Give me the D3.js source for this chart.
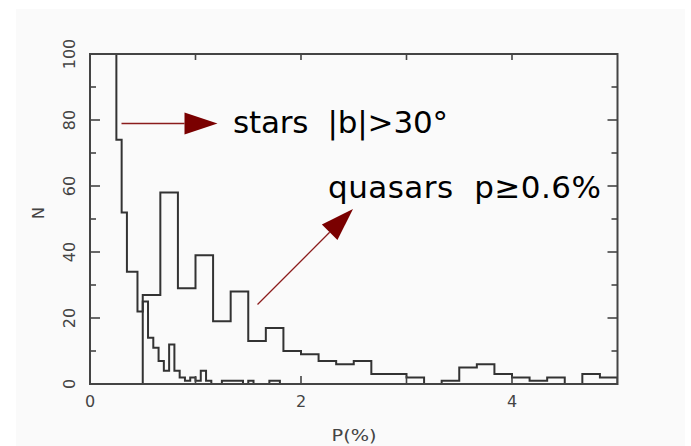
<!DOCTYPE html>
<html>
<head>
<meta charset="utf-8">
<script src="https://cdn.jsdelivr.net/npm/d3@7"></script>
<style>
  html, body { margin: 0; padding: 0; background: #ffffff; }
  svg { display: block; }
  text { font-family: "DejaVu Sans", sans-serif; }
</style>
</head>
<body>
<script>
// ---------------- data ----------------
// Stars |b|>30: bins of width 0.05 starting at P=0 (first five bins run off-scale)
const starBinStart = 0;
const starBinWidth = 0.05;
const starCounts = [150, 150, 150, 150, 150,
  74, 52, 34, 34, 22, 25, 14, 11, 7, 4, 12, 4, 2, 1, 2, 1, 4, 1, 0, 0,
  1, 1, 1, 1, 0, 1, 0, 0, 0, 1, 1];
// Quasars p>=0.6%: bins of width 1/6 starting at P=0.5
const quasarBinStart = 0.5;
const quasarBinWidth = 1 / 6;
const quasarCounts = [27, 58, 29, 39, 19, 28, 13, 17, 10, 9, 7, 6, 7, 3, 3, 2, 0, 1,
  5, 6, 3, 2, 1, 2, 0, 3, 2];
const xTickLabels = [0, 2, 4];
const xMinorTicks = [1, 2, 3, 4];
const yMajorTicks = [0, 20, 40, 60, 80, 100];
const yMinorTicks = [10, 30, 50, 70, 90];
const xTitle = "P(%)";
const yTitle = "N";
const starLabel = "stars  |b|>30°";
const quasarLabel = "quasars  p≥0.6%";

(function () {
// ---------------- layout ----------------
const W = 691, H = 446;
const pLeft = 90, pRight = 617.5, pTop = 54, pBottom = 384;
const ink = "#333333";
const arrowRed = "#7a0000";

const svg = d3.select("body").append("svg").attr("width", W).attr("height", H);

svg.append("rect").attr("x", 16).attr("y", 9).attr("width", 669).attr("height", H - 9)
  .attr("fill", "#fafafa");

const x = d3.scaleLinear().domain([0, 5]).range([pLeft, pRight]);
const y = d3.scaleLinear().domain([0, 100]).range([pBottom, pTop]);

svg.append("defs").append("clipPath").attr("id", "plotclip")
  .append("rect").attr("x", x(0)).attr("y", y(100)).attr("width", x(5) - x(0)).attr("height", y(0) - y(100));

function stepPoints(start, width, counts) {
  const pts = [[start, 0]];
  counts.forEach((c, i) => {
    pts.push([start + i * width, c]);
    pts.push([start + (i + 1) * width, c]);
  });
  pts.push([start + counts.length * width, 0]);
  return pts;
}
const line = d3.line().x(d => x(d[0])).y(d => y(d[1]));

const plot = svg.append("g").attr("clip-path", "url(#plotclip)");
plot.append("path").datum(stepPoints(starBinStart, starBinWidth, starCounts))
  .attr("d", line).attr("fill", "none").attr("stroke", ink).attr("stroke-width", 2)
  .attr("stroke-linejoin", "miter");
plot.append("path").datum(stepPoints(quasarBinStart, quasarBinWidth, quasarCounts))
  .attr("d", line).attr("fill", "none").attr("stroke", ink).attr("stroke-width", 2)
  .attr("stroke-linejoin", "miter");

// frame
svg.append("rect").attr("x", x(0)).attr("y", y(100)).attr("width", x(5) - x(0)).attr("height", y(0) - y(100))
  .attr("fill", "none").attr("stroke", "#444").attr("stroke-width", 2);

// ticks
const tg = svg.append("g").attr("stroke", "#444").attr("stroke-width", 1.6);
yMajorTicks.forEach(v => {
  tg.append("line").attr("x1", x(0)).attr("x2", x(0) + 10).attr("y1", y(v)).attr("y2", y(v));
  tg.append("line").attr("x1", x(5)).attr("x2", x(5) - 10).attr("y1", y(v)).attr("y2", y(v));
});
yMinorTicks.forEach(v => {
  tg.append("line").attr("x1", x(0)).attr("x2", x(0) + 6).attr("y1", y(v)).attr("y2", y(v));
  tg.append("line").attr("x1", x(5)).attr("x2", x(5) - 6).attr("y1", y(v)).attr("y2", y(v));
});
xMinorTicks.forEach(v => {
  tg.append("line").attr("x1", x(v)).attr("x2", x(v)).attr("y1", y(0)).attr("y2", y(0) - 8);
  tg.append("line").attr("x1", x(v)).attr("x2", x(v)).attr("y1", y(100)).attr("y2", y(100) + 6);
});

// tick labels
const lab = "#444";
yMajorTicks.forEach(v => {
  svg.append("text").attr("transform", `translate(75,${y(v)}) rotate(-90)`)
    .attr("text-anchor", "middle").attr("font-size", 16).attr("fill", lab).text(v);
});
xTickLabels.forEach(v => {
  svg.append("text").attr("x", x(v)).attr("y", 407).attr("text-anchor", "middle")
    .attr("font-size", 16).attr("fill", lab).text(v);
});
svg.append("text").attr("x", 354).attr("y", 441).attr("text-anchor", "middle")
  .attr("font-size", 16).attr("fill", lab).attr("textLength", 45).attr("lengthAdjust", "spacingAndGlyphs")
  .text(xTitle);
svg.append("text").attr("transform", `translate(44,213) rotate(-90)`)
  .attr("text-anchor", "middle").attr("font-size", 16).attr("fill", lab).text(yTitle);

// annotations
function arrow(x1, y1, x2, y2) {
  const dx = x2 - x1, dy = y2 - y1, L = Math.hypot(dx, dy);
  const ux = dx / L, uy = dy / L, hl = 33, hw = 11;
  const bx = x2 - ux * hl, by = y2 - uy * hl;
  svg.append("line").attr("x1", x1).attr("y1", y1).attr("x2", bx).attr("y2", by)
    .attr("stroke", "#8b1c1c").attr("stroke-width", 1.3);
  svg.append("path").attr("d",
    `M${x2},${y2}L${bx - uy * hw},${by + ux * hw}L${bx + uy * hw},${by - ux * hw}Z`)
    .attr("fill", arrowRed);
}
arrow(121.5, 123.5, 217.5, 123.5);
arrow(257.5, 304.5, 353, 209);

svg.append("text").attr("x", 233).attr("y", 133).attr("font-size", 31).attr("fill", "#000")
  .attr("xml:space", "preserve").style("white-space", "pre")
  .attr("textLength", 215).attr("lengthAdjust", "spacing").text(starLabel);
svg.append("text").attr("x", 328).attr("y", 198).attr("font-size", 31).attr("fill", "#000")
  .attr("xml:space", "preserve").style("white-space", "pre")
  .attr("textLength", 273).attr("lengthAdjust", "spacing").text(quasarLabel);
})();
</script>
</body>
</html>
